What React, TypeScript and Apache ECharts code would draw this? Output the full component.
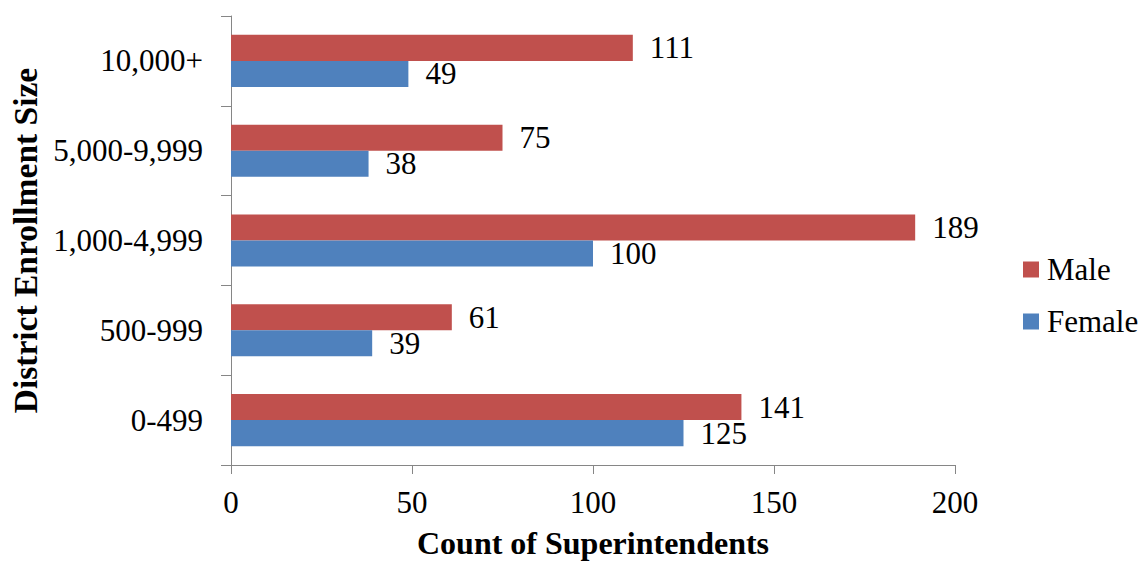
import React, { useEffect, useRef } from "react";
import * as echarts from "echarts";

const categories = ["0-499", "500-999", "1,000-4,999", "5,000-9,999", "10,000+"];
const maleValues = [141, 61, 189, 75, 111];
const femaleValues = [125, 39, 100, 38, 49];
const xTicks = { min: 0, max: 200, interval: 50 };

const FONT = "'Liberation Serif', 'Times New Roman', serif";
const FS = 31;

export default function App() {
  const ref = useRef<HTMLDivElement>(null);
  useEffect(() => {
    const chart = echarts.init(ref.current!, null, { renderer: "svg" });
    const label = {
      show: true,
      position: "right",
      distance: 17,
      color: "#000",
      fontFamily: FONT,
      fontSize: FS,
    };
    chart.setOption({
      animation: false,
      backgroundColor: "#fff",
      grid: { left: 231, top: 16, right: 188, bottom: 99, containLabel: false },
      legend: {
        data: ["Male", "Female"],
        orient: "vertical",
        left: 1018,
        top: 249,
        itemWidth: 16,
        itemHeight: 16,
        itemGap: 21,
        icon: "rect",
        textStyle: { fontFamily: FONT, fontSize: FS, lineHeight: 31, color: "#000", padding: [0, 0, 0, 3] },
      },
      xAxis: {
        type: "value",
        min: xTicks.min,
        max: xTicks.max,
        interval: xTicks.interval,
        splitLine: { show: false },
        axisLine: { show: true, lineStyle: { color: "#868686", width: 1 } },
        axisTick: { show: true, length: 9, lineStyle: { color: "#868686" } },
        axisLabel: { fontFamily: FONT, fontSize: FS, color: "#000", margin: 22 },
        name: "Count of Superintendents",
        nameLocation: "middle",
        nameGap: 62,
        nameTextStyle: { fontFamily: FONT, fontSize: 32, fontWeight: "bold", color: "#000" },
      },
      yAxis: {
        type: "category",
        data: categories,
        axisLine: { show: true, lineStyle: { color: "#868686", width: 1 } },
        axisTick: { show: true, length: 10, lineStyle: { color: "#868686" } },
        axisLabel: { fontFamily: FONT, fontSize: FS, color: "#000", margin: 28 },
        name: "District Enrollment Size",
        nameLocation: "middle",
        nameGap: 182,
        nameTextStyle: { fontFamily: FONT, fontSize: 33.5, fontWeight: "bold", color: "#000" },
      },
      series: [
        {
          name: "Male",
          type: "bar",
          data: maleValues,
          itemStyle: { color: "#C0504D" },
          barGap: "0%",
          barCategoryGap: "42%",
          label,
        },
        {
          name: "Female",
          type: "bar",
          data: femaleValues,
          itemStyle: { color: "#4F81BD" },
          barGap: "0%",
          barCategoryGap: "42%",
          label,
        },
      ],
    });
    return () => chart.dispose();
  }, []);
  return (
    <div
      ref={ref}
      style={{ position: "fixed", left: 0, top: 0, width: 1143, height: 564 }}
    />
  );
}
